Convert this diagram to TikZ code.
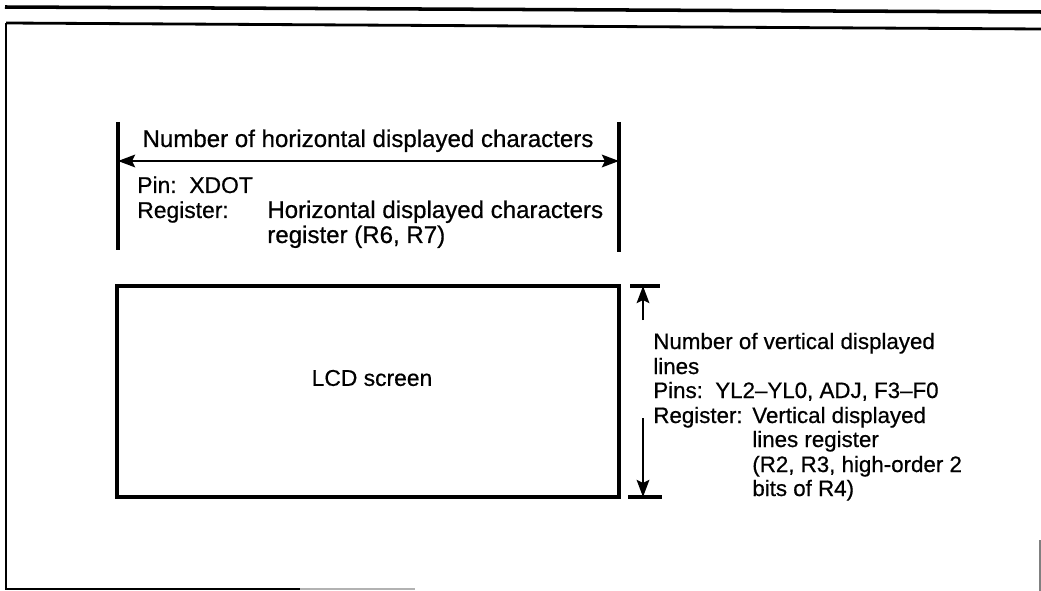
\documentclass[tikz,border=0pt]{standalone}
\usepackage{fontspec}
\setmainfont{Liberation Sans}[FakeBold=0.6]
\usetikzlibrary{arrows.meta, positioning}
\tikzset{
	frameline/.style={line width=1.2pt, black},
	tick/.style     ={line width=2pt, black},
	dimarrow/.style ={-{Stealth[length=3.4mm, width=2.5mm, inset=0.6mm]}, line width=1.6pt},
	screen/.style   ={rectangle, draw=black, line width=1.8pt, minimum width=10.04cm, minimum height=4.22cm, inner sep=0pt},
	txt/.style      ={anchor=base west, inner sep=0pt, font=\fontsize{13}{15}\selectfont},
	wtxt/.style     ={txt, font=\fontsize{13.7}{15}\selectfont},
	ntxt/.style     ={txt, font=\fontsize{12.7}{15}\selectfont},
}
\begin{document}
\begin{tikzpicture}[x=0.02cm, y=-0.02cm]
	\useasboundingbox (0,0) rectangle (1041,591);
	% page rules and frame
	\draw[frameline, line width=2pt] (5,7) -- (1041,12);
	\draw[frameline, line width=1.6pt] (1041,29) -- (6,23);
	\draw[frameline] (6,23) -- (6,589) -- (300,589);
	\draw[frameline, gray!60, line width=0.7pt] (300,589) -- (415,589);
	\draw[frameline, gray] (1040,540) -- (1040,591);
	% horizontal dimension
	\coordinate (htl) at (118,122);
	\coordinate (hbl) at (118,250);
	\coordinate (htr) at (619,122);
	\coordinate (hbr) at (619,252);
	\coordinate (hl) at (118,161);
	\coordinate (hr) at (619,161);
	\coordinate (hm) at (368,161);
	\draw[tick] (htl) -- (hbl);
	\draw[tick] (htr) -- (hbr);
	\draw[dimarrow] (hm) -- (hl);
	\draw[dimarrow] (hm) -- (hr);
	\node[wtxt, anchor=base] (htitle) at (368,147) {Number of horizontal displayed characters};
	\node[txt] (hpin) at (137,193) {Pin:\ \ XDOT};
	\node[txt] (hreg) at (137,218) {Register:};
	\node[wtxt] (hreg1) at (267,218) {Horizontal displayed characters};
	\node[wtxt] (hreg2) at (267,243) {register (R6, R7)};
	% LCD screen
	\node[screen] (lcd) at (368,391.5) {};
	\node[txt, anchor=center] (lcdtxt) at (372,378) {LCD screen};
	% vertical dimension
	\coordinate (vtl) at (630,286);
	\coordinate (vtr) at (660,286);
	\coordinate (vbl) at (628,497);
	\coordinate (vbr) at (662,497);
	\coordinate (vt) at (643,286);
	\coordinate (vb) at (643,497);
	\coordinate (vup) at (643,320);
	\coordinate (vdn) at (643,418);
	\draw[tick] (vtl) -- (vtr);
	\draw[tick] (vbl) -- (vbr);
	\draw[dimarrow] (vup) -- (vt);
	\draw[dimarrow] (vdn) -- (vb);
	\node[ntxt] (vtitle1) at (653,349) {Number of vertical displayed};
	\node[ntxt] (vtitle2) at (653,374) {lines};
	\node[ntxt] (vpin) at (653,398) {Pins:\ \ YL2--YL0, ADJ, F3--F0};
	\node[ntxt] (vreg) at (653,423) {Register:};
	\node[ntxt] (vreg1) at (752,423) {Vertical displayed};
	\node[ntxt] (vreg2) at (752,447) {lines register};
	\node[ntxt] (vreg3) at (752,472) {(R2, R3, high-order 2};
	\node[ntxt] (vreg4) at (752,496) {bits of R4)};
\end{tikzpicture}
\end{document}
